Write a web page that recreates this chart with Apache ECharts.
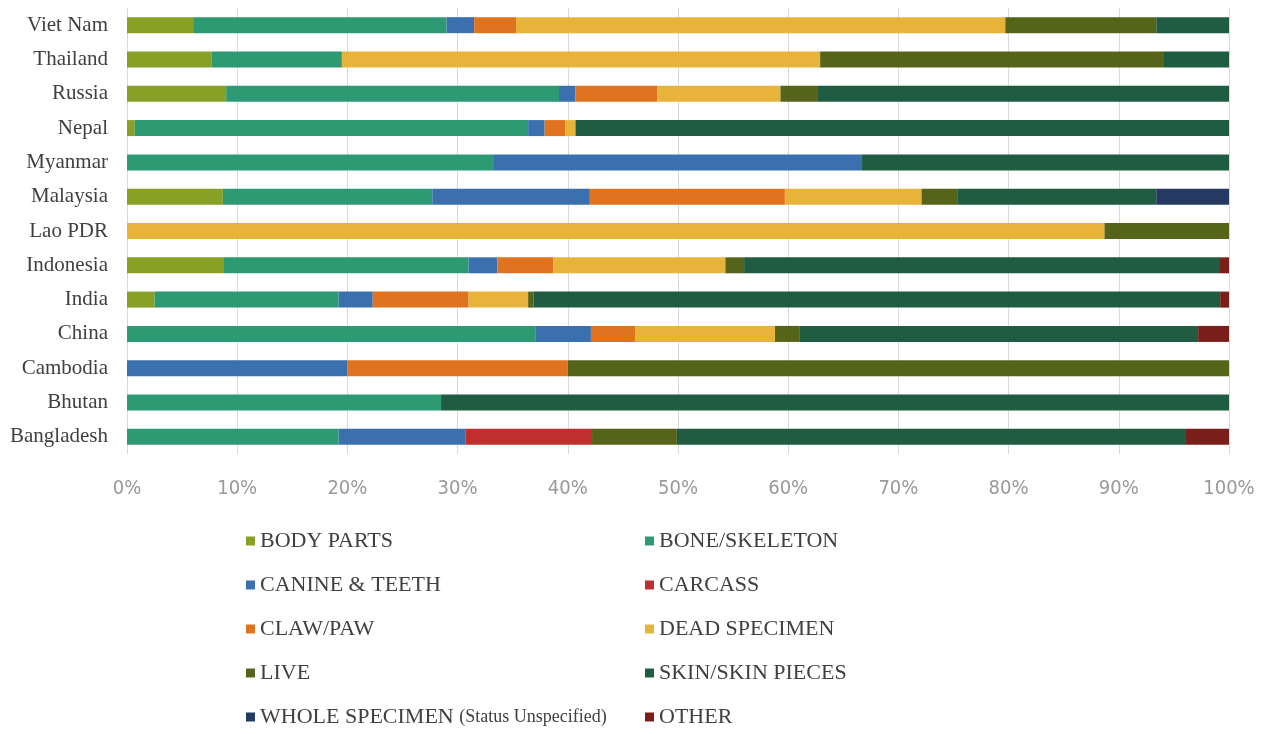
<!DOCTYPE html>
<html>
<head>
<meta charset="utf-8">
<script src="https://cdn.jsdelivr.net/npm/echarts@6/dist/echarts.min.js"></script>
<style>
html,body{margin:0;padding:0;background:#fff;}
#chart{width:1267px;height:734px;}
</style>
</head>
<body>
<div id="chart"></div>
<script>
// Categories, top to bottom
const countries = ['Viet Nam','Thailand','Russia','Nepal','Myanmar','Malaysia','Lao PDR','Indonesia','India','China','Cambodia','Bhutan','Bangladesh'];
const tickLabels = ['0%','10%','20%','30%','40%','50%','60%','70%','80%','90%','100%'];
// Shares (%) per country, same order as countries
const bodyParts      = [6.0, 7.7, 9.0, 0.7, 0,    8.7, 0,    8.8, 2.5, 0,    0,  0,    0];
const boneSkeleton   = [23.0,11.8,30.2,35.7,33.3, 19.0,0,    22.2,16.7,37.1, 0,  28.5, 19.2];
const canineTeeth    = [2.5, 0,   1.5, 1.5, 33.4, 14.3,0,    2.6, 3.1, 5.0,  20, 0,    11.5];
const carcass        = [0,   0,   0,   0,   0,    0,   0,    0,   0,   0,    0,  0,    11.5];
const clawPaw        = [3.8, 0,   7.4, 1.9, 0,    17.7,0,    5.1, 8.7, 4.0,  20, 0,    0];
const deadSpecimen   = [44.4,43.4,11.2,0.9, 0,    12.4,88.7, 15.6,5.4, 12.7, 0,  0,    0];
const live           = [13.7,31.2,3.4, 0,   0,    3.3, 11.3, 1.7, 0.5, 2.2,  60, 0,    7.7];
const skinPieces     = [6.6, 5.9, 37.3,59.3,33.3, 18.0,0,    43.1,62.3,36.2, 0,  71.5, 46.2];
const wholeSpecimen  = [0,   0,   0,   0,   0,    6.6, 0,    0,   0,   0,    0,  0,    0];
const other          = [0,   0,   0,   0,   0,    0,   0,    0.9, 0.8, 2.8,  0,  0,    3.9];

const seriesNames = ['BODY PARTS','BONE/SKELETON','CANINE & TEETH','CARCASS','CLAW/PAW','DEAD SPECIMEN','LIVE','SKIN/SKIN PIECES','WHOLE SPECIMEN (Status Unspecified)','OTHER'];
const seriesData = [bodyParts, boneSkeleton, canineTeeth, carcass, clawPaw, deadSpecimen, live, skinPieces, wholeSpecimen, other];
const colors = ['#88A025','#2E9A73','#3A70AE','#BE2F2D','#E0731F','#E8B33B','#56641A','#1F5C41','#243A63','#7A1E1A'];

const legendLeft = ['BODY PARTS','CANINE & TEETH','CLAW/PAW','LIVE','WHOLE SPECIMEN (Status Unspecified)'];
const legendRight = ['BONE/SKELETON','CARCASS','DEAD SPECIMEN','SKIN/SKIN PIECES','OTHER'];

const chart = echarts.init(document.getElementById('chart'), null, {renderer:'canvas'});
const serif = '"Liberation Serif","DejaVu Serif",serif';
const legendBase = {
  orient:'vertical', top:525, height:400, itemWidth:9, itemHeight:9, itemGap:22, itemTextGap:5,
  icon:'rect',
  formatter:(name)=>{
    const k = name.indexOf(' (');
    if (k > 0) return '{a|' + name.slice(0,k) + ' }{b|' + name.slice(k+1) + '}';
    return '{a|' + name + '}';
  },
  textStyle:{
    fontFamily:serif, fontSize:22, color:'#404040', lineHeight:22,
    rich:{
      a:{fontFamily:serif, fontSize:22, color:'#404040', lineHeight:22},
      b:{fontFamily:serif, fontSize:18, color:'#404040', lineHeight:22}
    }
  },
  selectedMode:false
};
chart.setOption({
  backgroundColor:'#ffffff',
  animation:false,
  color: colors,
  grid:{left:127, right:38, top:8, height:446, containLabel:false},
  xAxis:{
    type:'value', min:0, max:100, interval:10,
    axisLine:{show:false}, axisTick:{show:false},
    splitLine:{show:true, lineStyle:{color:'#d9d9d9', width:1}},
    axisLabel:{
      formatter:(v)=>tickLabels[Math.round(v/10)],
      margin:25,
      fontFamily:'"Liberation Sans Narrow","DejaVu Sans Condensed",sans-serif',
      fontSize:20, color:'#999999'
    }
  },
  yAxis:{
    type:'category', data:countries, inverse:true,
    axisLine:{show:false}, axisTick:{show:false},
    axisLabel:{margin:19, fontFamily:serif, fontSize:21, color:'#404040'}
  },
  legend:[
    Object.assign({}, legendBase, {left:241, data:legendLeft}),
    Object.assign({}, legendBase, {left:640, data:legendRight})
  ],
  series: seriesNames.map((n,i)=>({
    name:n, type:'bar', stack:'total', barWidth:16,
    data:seriesData[i],
    itemStyle:{color:colors[i]}
  }))
});
</script>
</body>
</html>
